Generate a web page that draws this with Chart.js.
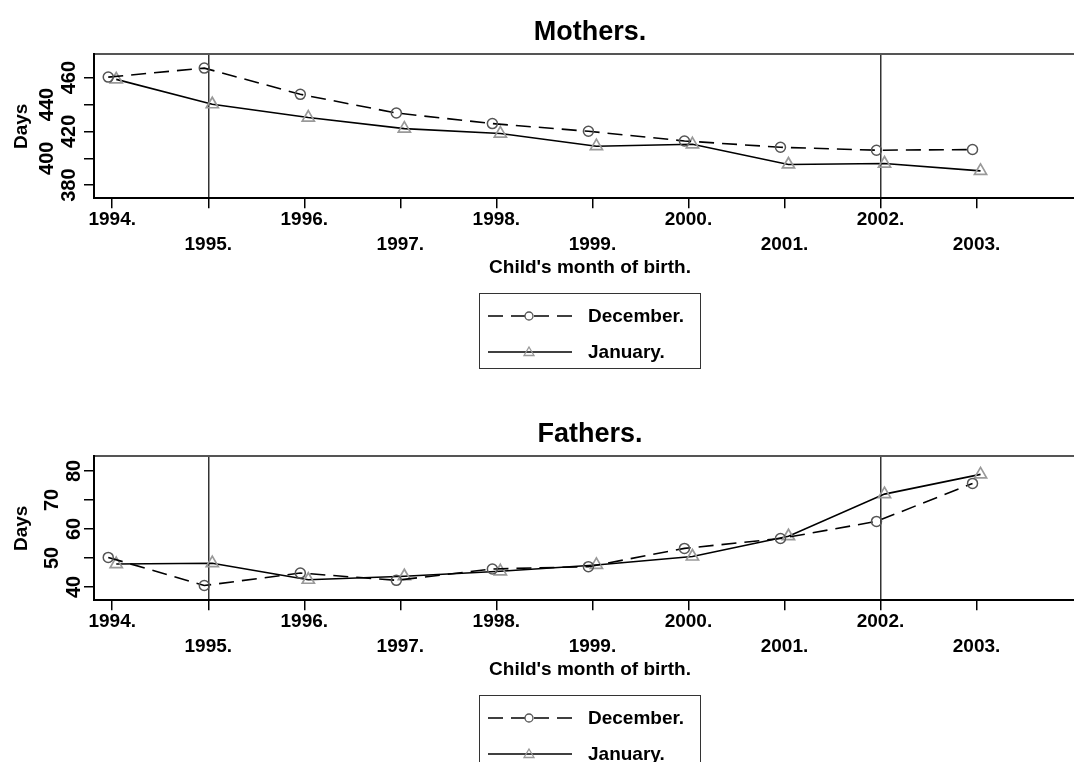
<!DOCTYPE html>
<html>
<head>
<meta charset="utf-8">
<script src="https://cdn.jsdelivr.net/npm/chart.js@4.4.1/dist/chart.umd.min.js"></script>
<style>
  body { margin: 0; background: #fff; width: 1074px; height: 762px; overflow: hidden; position: relative;
         font-family: "Liberation Sans", Arial, sans-serif; }
  .panel { position: absolute; left: 0; width: 1086px; height: 402px; }
  .legend { position: absolute; left: 479px; top: 293px; width: 220px; height: 70px;
            border: 1px solid #333; padding-top: 4px; }
  .row { height: 36px; display: flex; align-items: center; }
  .row canvas { margin-left: 8px; margin-right: 16px; }
  .row span { font-weight: bold; font-size: 19px; color: #000; }
</style>
</head>
<body>
<div class="panel" style="top:0">
  <canvas id="mothers" width="1086" height="285"></canvas>
  <div class="legend" id="legMothers"></div>
</div>
<div class="panel" style="top:402px">
  <canvas id="fathers" width="1086" height="285"></canvas>
  <div class="legend" id="legFathers"></div>
</div>
<script>
const years = [1994, 1995, 1996, 1997, 1998, 1999, 2000, 2001, 2002, 2003];
const markedYears = [1995, 2002];

// Mothers: days of leave
const momsDec = [460.4, 467.1, 447.6, 433.7, 425.8, 420.1, 412.9, 408.2, 406.0, 406.5];
const momsJan = [458.7, 440.2, 430.3, 422.1, 418.4, 409.0, 410.4, 395.4, 396.1, 390.6];
const momsTicks = [380, 400, 420, 440, 460];

// Fathers
const dadsDec = [50.2, 40.5, 44.8, 42.3, 46.2, 47.0, 53.3, 56.7, 62.6, 75.7];
const dadsJan = [47.9, 48.2, 42.5, 43.7, 45.4, 47.6, 50.5, 57.5, 72.0, 78.8];
const dadsTicks = [40, 50, 60, 70, 80];

const seriesNames = ['December', 'January'];

Chart.defaults.font.family = '"Liberation Sans", Arial, sans-serif';
Chart.defaults.color = '#000';

// December births sit half a month before the year tick, January half a month after
const HALF_MONTH = 1 / 24;

function drawSymbol(cv, ds) {
  const ctx = cv.getContext('2d');
  ctx.strokeStyle = ds.borderColor;
  ctx.lineWidth = 1.4;
  ctx.setLineDash(ds.borderDash || []);
  ctx.beginPath();
  ctx.moveTo(0, 10);
  ctx.lineTo(cv.width, 10);
  ctx.stroke();
  ctx.setLineDash([]);
  ctx.strokeStyle = ds.pointBorderColor;
  ctx.lineWidth = 1.3;
  const cx = 41;
  if (ds.pointStyle === 'circle') {
    ctx.fillStyle = '#fff';
    ctx.beginPath();
    ctx.arc(cx, 10, 4, 0, Math.PI * 2);
    ctx.fill();
    ctx.stroke();
  } else {
    ctx.beginPath();
    ctx.moveTo(cx, 5);
    ctx.lineTo(cx + 5, 13.5);
    ctx.lineTo(cx - 5, 13.5);
    ctx.closePath();
    ctx.stroke();
  }
}

function buildLegend(chart, el) {
  el.innerHTML = '';
  chart.data.datasets.forEach(ds => {
    const row = document.createElement('div');
    row.className = 'row';
    const cv = document.createElement('canvas');
    cv.width = 84;
    cv.height = 20;
    drawSymbol(cv, ds);
    const span = document.createElement('span');
    span.textContent = ds.label + '.';
    row.appendChild(cv);
    row.appendChild(span);
    el.appendChild(row);
  });
}

function makePanel(canvasId, legendId, title, dec, jan, yMin, yMax, yTicks) {
  const chart = new Chart(document.getElementById(canvasId), {
    type: 'line',
    data: {
      datasets: [{
        label: seriesNames[0],
        data: years.map((yr, i) => ({ x: yr - HALF_MONTH, y: dec[i] })),
        borderColor: '#000',
        borderWidth: 1.6,
        borderDash: [15, 8],
        pointStyle: 'circle',
        pointRadius: 5,
        pointBorderColor: '#555',
        pointBorderWidth: 1.5,
        pointBackgroundColor: 'rgba(0,0,0,0)',
        tension: 0
      }, {
        label: seriesNames[1],
        data: years.map((yr, i) => ({ x: yr + HALF_MONTH, y: jan[i] })),
        borderColor: '#000',
        borderWidth: 1.6,
        pointStyle: 'triangle',
        pointRadius: 7,
        pointBorderColor: '#999',
        pointBorderWidth: 1.7,
        pointBackgroundColor: 'rgba(0,0,0,0)',
        tension: 0
      }]
    },
    options: {
      responsive: false,
      animation: false,
      devicePixelRatio: 1,
      layout: { autoPadding: false, padding: 0 },
      plugins: {
        legend: { display: false },
        tooltip: { enabled: false },
        title: {
          display: true,
          fullSize: false, // centre over the plot region, like the x title
          text: title,
          font: { size: 27, weight: 'bold', lineHeight: 1.2 },
          padding: { top: 16, bottom: 6 }
        }
      },
      scales: {
        x: {
          type: 'linear',
          position: 'bottom',
          min: 1993.81,
          max: 2004.14,
          afterBuildTicks: s => { s.ticks = years.map(v => ({ value: v })); },
          ticks: {
            autoSkip: false,
            maxRotation: 0,
            minRotation: 0,
            padding: -1,
            font: { size: 19, weight: 'bold', lineHeight: '25px' },
            callback: (v, i) => i % 2 === 0 ? [v + '.', ''] : ['', v + '.']
          },
          grid: {
            drawOnChartArea: true,
            color: c => (c.tick && markedYears.includes(c.tick.value)) ? '#333' : 'rgba(0,0,0,0)',
            tickColor: '#000',
            lineWidth: 1.5,
            tickLength: 10
          },
          border: { color: '#000', width: 2 },
          title: {
            display: true,
            text: "Child's month of birth.",
            font: { size: 19, weight: 'bold', lineHeight: 1.2 },
            padding: { top: 0, bottom: 6 }
          }
        },
        xTop: {
          type: 'linear',
          position: 'top',
          min: 1993.81,
          max: 2004.14,
          ticks: { display: false },
          grid: { drawOnChartArea: false, drawTicks: false },
          border: { color: '#555', width: 2 }
        },
        y: {
          type: 'linear',
          position: 'left',
          min: yMin,
          max: yMax,
          afterBuildTicks: s => { s.ticks = yTicks.map(v => ({ value: v })); },
          afterFit: s => { s.width = 94; },
          ticks: {
            autoSkip: false,
            minRotation: 90,
            maxRotation: 90,
            crossAlign: 'center',
            padding: 9,
            font: { size: 20, weight: 'bold', lineHeight: '22px' },
            callback: (v, i) => i % 2 === 0 ? ['', String(v)] : [String(v), '']
          },
          grid: {
            drawOnChartArea: false,
            tickColor: '#000',
            lineWidth: 1.5,
            tickLength: 10
          },
          border: { color: '#000', width: 2 },
          title: {
            display: true,
            text: 'Days',
            font: { size: 19, weight: 'bold', lineHeight: 1.2 },
            padding: { top: 10, bottom: 0 }
          }
        }
      }
    }
  });
  buildLegend(chart, document.getElementById(legendId));
  return chart;
}

makePanel('mothers', 'legMothers', 'Mothers.', momsDec, momsJan, 370.3, 477.3, momsTicks);
makePanel('fathers', 'legFathers', 'Fathers.', dadsDec, dadsJan, 35.45, 85, dadsTicks);
</script>
</body>
</html>
